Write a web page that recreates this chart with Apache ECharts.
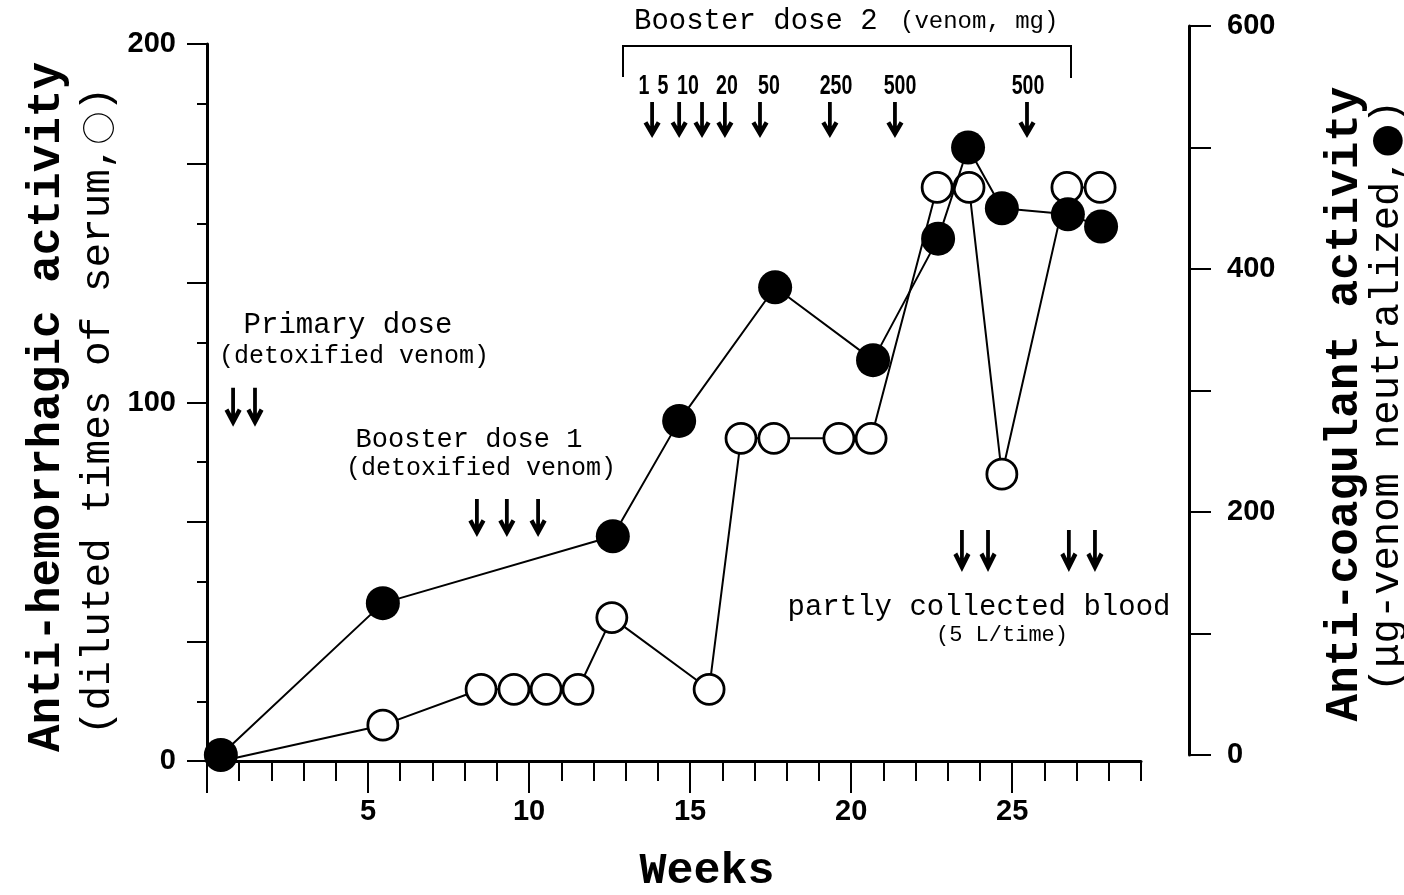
<!DOCTYPE html>
<html>
<head>
<meta charset="utf-8">
<script src="https://cdn.jsdelivr.net/npm/echarts@6/dist/echarts.min.js"></script>
<style>
html,body{margin:0;padding:0;background:#fff;}
#chart{width:1404px;height:895px;}
</style>
</head>
<body>
<div id="chart"></div>
<script>
// ---- data ----
var hemWeeks = [0.45, 5.46, 8.51, 9.53, 10.53, 11.52, 12.57, 15.59, 16.58, 17.6, 19.62, 20.62, 22.67, 23.66, 24.68, 26.7, 27.73];
var hemValues = [0, 10, 20, 20, 20, 20, 40, 20, 90, 90, 90, 90, 160, 160, 80, 160, 160];
var coagWeeks = [0.43, 5.46, 12.6, 14.66, 17.64, 20.68, 22.7, 23.63, 24.68, 26.73, 27.76];
var coagValues = [0, 125, 180, 275, 385, 325, 425, 500, 450, 445, 435];
var primaryDoseWeeks = [0.81, 1.49];
var booster1Weeks = [8.38, 9.31, 10.28];
var booster2Weeks = [13.82, 14.66, 15.37, 16.08, 17.17, 19.34, 21.36, 25.46];
var booster2Doses = ['1', '5', '10', '20', '50', '250', '500', '500'];
var bloodWeeks = [23.44, 24.25, 26.76, 27.57];
var xTickLabels = [5, 10, 15, 20, 25];
var leftTickLabels = [0, 100, 200];
var rightTickLabels = [0, 200, 400, 600];

var MONO = '"Liberation Mono", "Courier New", monospace';
var NUM = '"Liberation Sans", Arial, sans-serif';
var CJK = '"Noto Sans CJK JP", "Noto Sans CJK SC", sans-serif';
var ARROW = 'path://M7,0L11,0L11,35L7,35Z M0,25L4,22.5L9,32L14,22.5L18,25L9,42Z';

function pairs(xs, ys) { return xs.map(function (x, i) { return [x, ys[i]]; }); }
function level(xs, y) { return xs.map(function (x) { return [x, y]; }); }

var chart = echarts.init(document.getElementById('chart'));

var hemData = pairs(hemWeeks, hemValues).map(function (p, i) {
  // the first open circle lies hidden under the filled one at the origin
  return i === 0 ? {value: p, symbol: 'none'} : {value: p};
});

var gx = 207, gw = 934;
var option = {
  backgroundColor: '#fff',
  animation: false,
  grid: [
    {left: gx, top: 44, width: gw, height: 717},
    {left: gx, top: 26, width: gw, height: 729},
    {left: gx, top: 44, width: gw * 25 / 29, height: 717}
  ],
  xAxis: [
    {
      type: 'value', gridIndex: 0, min: 0, max: 29, interval: 1,
      axisLine: {show: true, onZero: false, lineStyle: {color: '#000', width: 3}},
      axisTick: {show: true, length: 20, lineStyle: {color: '#000', width: 2}},
      axisLabel: {
        show: true, margin: 36, color: '#000', fontFamily: NUM, fontWeight: 'bold', fontSize: 29,
        formatter: function (v) { var r = Math.round(v); return (Math.abs(v - r) < 1e-6 && xTickLabels.indexOf(r) >= 0) ? String(r) : ''; }
      },
      splitLine: {show: false}
    },
    {
      type: 'value', gridIndex: 1, min: 0, max: 29, show: false
    },
    {
      type: 'value', gridIndex: 2, min: 0, max: 25, interval: 5,
      axisLine: {show: false, onZero: false},
      axisTick: {show: true, length: 32, lineStyle: {color: '#000', width: 2}},
      axisLabel: {show: false},
      splitLine: {show: false}
    }
  ],
  yAxis: [
    {
      type: 'value', gridIndex: 0, min: 0, max: 200, interval: 100 / 3,
      axisLine: {show: true, onZero: false, lineStyle: {color: '#000', width: 3}},
      axisTick: {show: true, length: 20, lineStyle: {color: '#000', width: 2}},
      minorTick: {show: true, splitNumber: 2, length: 10, lineStyle: {color: '#000', width: 2}},
      axisLabel: {
        show: true, margin: 31, color: '#000', fontFamily: NUM, fontWeight: 'bold', fontSize: 29,
        formatter: function (v) { var r = Math.round(v); return (Math.abs(v - r) < 1e-3 && leftTickLabels.indexOf(r) >= 0) ? String(r) : ''; }
      },
      splitLine: {show: false}
    },
    {
      type: 'value', gridIndex: 1, position: 'right', offset: 48, min: 0, max: 600, interval: 100,
      axisLine: {show: true, onZero: false, lineStyle: {color: '#000', width: 3}},
      axisTick: {show: true, length: 22, lineStyle: {color: '#000', width: 2}},
      axisLabel: {
        show: true, margin: 38, color: '#000', fontFamily: NUM, fontWeight: 'bold', fontSize: 29,
        formatter: function (v) { var r = Math.round(v); return rightTickLabels.indexOf(r) >= 0 ? String(r) : ''; }
      },
      splitLine: {show: false}
    },
    {
      type: 'value', gridIndex: 2, min: 0, max: 200, show: false
    }
  ],
  series: [
    {
      name: 'Anti-hemorrhagic', type: 'line', xAxisIndex: 0, yAxisIndex: 0,
      data: hemData,
      symbol: 'circle', symbolSize: 30,
      lineStyle: {color: '#000', width: 2},
      itemStyle: {color: '#fff', borderColor: '#000', borderWidth: 2.8},
      z: 3, silent: true
    },
    {
      name: 'Anti-coagulant', type: 'line', xAxisIndex: 1, yAxisIndex: 1,
      data: pairs(coagWeeks, coagValues),
      symbol: 'circle', symbolSize: 34, clip: false,
      lineStyle: {color: '#000', width: 2},
      itemStyle: {color: '#000', borderColor: '#000', borderWidth: 0},
      z: 4, silent: true
    },
    {
      type: 'scatter', xAxisIndex: 0, yAxisIndex: 0, silent: true,
      symbol: ARROW, symbolSize: [17, 39], itemStyle: {color: '#000', opacity: 1},
      data: level(primaryDoseWeeks, 98.7)
    },
    {
      type: 'scatter', xAxisIndex: 0, yAxisIndex: 0, silent: true,
      symbol: ARROW, symbolSize: [17, 38], itemStyle: {color: '#000', opacity: 1},
      data: level(booster1Weeks, 67.8)
    },
    {
      type: 'scatter', xAxisIndex: 0, yAxisIndex: 0, silent: true,
      symbol: ARROW, symbolSize: [17, 36], itemStyle: {color: '#000', opacity: 1},
      data: level(booster2Weeks, 178.8)
    },
    {
      type: 'scatter', xAxisIndex: 0, yAxisIndex: 0, silent: true,
      symbol: ARROW, symbolSize: [17, 42], itemStyle: {color: '#000', opacity: 1},
      data: level(bloodWeeks, 58.6)
    }
  ]
};
chart.setOption(option);

// ---- annotations ----
var doseX = [644, 663, 688, 727, 769, 836, 900, 1028];
var graphics = [
  {type: 'text', x: 47, y: 407, rotation: Math.PI / 2,
   style: {text: 'Anti-hemorrhagic activity', fontFamily: MONO, fontWeight: 'bold', fontSize: 46, align: 'center', verticalAlign: 'middle', fill: '#000'}},
  {type: 'text', x: 98, y: 411, rotation: Math.PI / 2,
   style: {text: '(diluted times of serum,{c|\u25CB})', fontFamily: MONO, fontSize: 41, align: 'center', verticalAlign: 'middle', fill: '#000',
     rich: {c: {fontFamily: CJK, fontSize: 33, fill: '#000'}}}},
  {type: 'text', x: 1345, y: 404, rotation: Math.PI / 2,
   style: {text: 'Anti-coagulant activity', fontFamily: MONO, fontWeight: 'bold', fontSize: 46, align: 'center', verticalAlign: 'middle', fill: '#000'}},
  {type: 'text', x: 1387, y: 396, rotation: Math.PI / 2,
   style: {text: '(\u03BCg-venom neutralized,{c|\u25CF})', fontFamily: MONO, fontSize: 40.5, align: 'center', verticalAlign: 'middle', fill: '#000',
     rich: {c: {fontFamily: CJK, fontSize: 33, fill: '#000'}}}},
  {type: 'text', x: 707, y: 872,
   style: {text: 'Weeks', fontFamily: MONO, fontWeight: 'bold', fontSize: 45, align: 'center', verticalAlign: 'middle', fill: '#000'}},
  {type: 'text', x: 348, y: 325,
   style: {text: 'Primary dose', fontFamily: MONO, fontSize: 29, align: 'center', verticalAlign: 'middle', fill: '#000'}},
  {type: 'text', x: 354, y: 356,
   style: {text: '(detoxified venom)', fontFamily: MONO, fontSize: 25, align: 'center', verticalAlign: 'middle', fill: '#000'}},
  {type: 'text', x: 469, y: 440,
   style: {text: 'Booster dose 1', fontFamily: MONO, fontSize: 27, align: 'center', verticalAlign: 'middle', fill: '#000'}},
  {type: 'text', x: 481, y: 468,
   style: {text: '(detoxified venom)', fontFamily: MONO, fontSize: 25, align: 'center', verticalAlign: 'middle', fill: '#000'}},
  {type: 'text', x: 634, y: 21,
   style: {text: 'Booster dose 2', fontFamily: MONO, fontSize: 29, align: 'left', verticalAlign: 'middle', fill: '#000'}},
  {type: 'text', x: 900, y: 22,
   style: {text: '(venom, mg)', fontFamily: MONO, fontSize: 24, align: 'left', verticalAlign: 'middle', fill: '#000'}},
  {type: 'polyline', shape: {points: [[623, 77], [623, 46], [1071, 46], [1071, 78]]},
   style: {stroke: '#000', lineWidth: 2, fill: null}},
  {type: 'text', x: 979, y: 607,
   style: {text: 'partly collected blood', fontFamily: MONO, fontSize: 29, align: 'center', verticalAlign: 'middle', fill: '#000'}},
  {type: 'text', x: 1002, y: 635,
   style: {text: '(5 L/time)', fontFamily: MONO, fontSize: 22, align: 'center', verticalAlign: 'middle', fill: '#000'}}
];
booster2Doses.forEach(function (d, i) {
  graphics.push({type: 'text', x: doseX[i], y: 86, scaleX: 0.7,
    style: {text: d, fontFamily: NUM, fontWeight: 'bold', fontSize: 28, align: 'center', verticalAlign: 'middle', fill: '#000'}});
});
chart.setOption({graphic: graphics});
</script>
</body>
</html>
